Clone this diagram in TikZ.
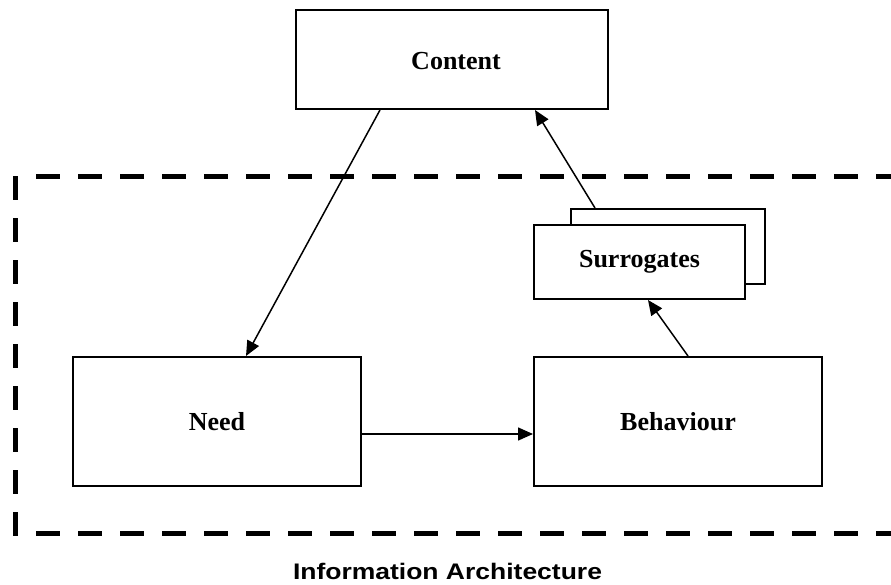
\documentclass[tikz,border=0pt]{standalone}
\usepackage{fontspec}
\setmainfont{Liberation Serif}
\newfontfamily\arialfont{Liberation Sans}
\usetikzlibrary{arrows.meta,calc}
\tikzset{
  box/.style={draw, line width=2pt, fill=white, inner sep=0pt,
    font=\fontsize{26}{30}\selectfont\bfseries},
  conn/.style={line width=1.5pt, -{Triangle[length=15pt,width=13pt]}},
  iaborder/.style={line width=5pt, dash pattern=on 24pt off 18pt},
}
\begin{document}
\begin{tikzpicture}[x=1pt,y=-1pt]
\useasboundingbox (0,0) rectangle (891,584);
% dashed boundary (right side runs off the picture)
\draw[iaborder] (36,176) -- (910,176);
\draw[iaborder] (36,533) -- (910,533);
\draw[iaborder] (15,176) -- (15,537);
% nodes
\node[box, minimum width=312pt, minimum height=99pt] (content) at (452,59.5) {};
\node[font=\fontsize{26}{30}\selectfont\bfseries] (contentlbl) at (456,61) {Content};
\node[box, minimum width=288pt, minimum height=129pt] (need) at (217,421.5) {Need};
\node[box, minimum width=288pt, minimum height=129pt] (behav) at (678,421.5) {Behaviour};
\node[box, minimum width=194pt, minimum height=75pt] (back) at (668,246.5) {};
\node[box, minimum width=211pt, minimum height=74pt] (front) at (639.5,262) {Surrogates};
% label
\node[font=\arialfont\fontsize{22.5}{27}\selectfont\bfseries, anchor=base, inner sep=0pt] (ialbl) at (447.5,579) {\scalebox{1.177}[1]{Information Architecture}};
% connectors
\draw[conn] ([xshift=-72pt]content.south) -- ([xshift=29pt]need.north);
\draw[conn] ([yshift=-12.5pt]need.east) -- ([yshift=-12.5pt]behav.west);
\draw[conn] ([xshift=10pt]behav.north) -- ([xshift=8.5pt]front.south);
\draw[conn] ([xshift=-73pt]back.north) -- ([xshift=83pt]content.south);
\end{tikzpicture}
\end{document}
